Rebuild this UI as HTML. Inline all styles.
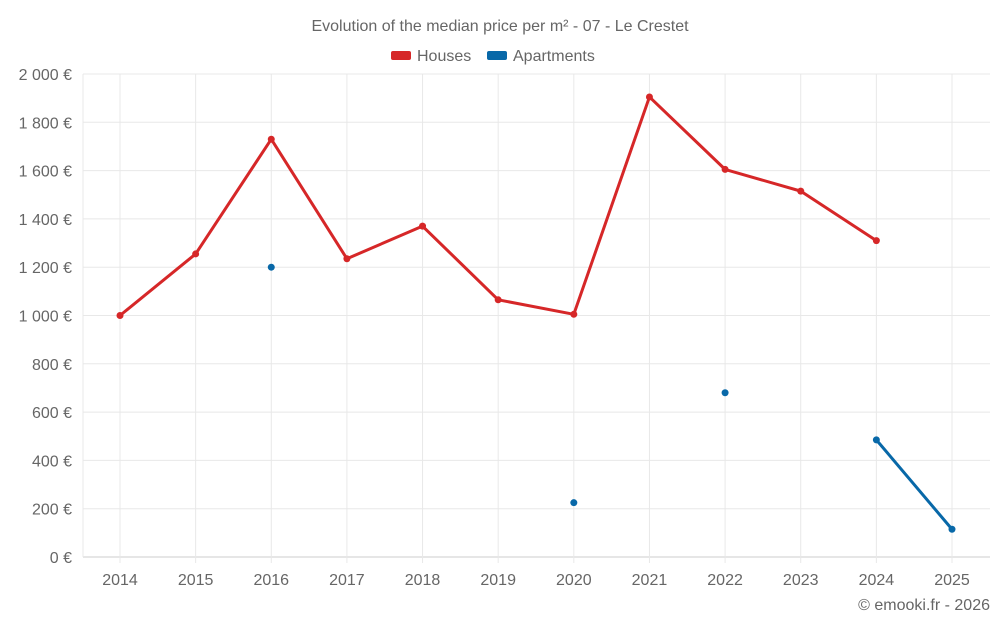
<!DOCTYPE html>
<html><head><meta charset="utf-8"><style>
body{margin:0;background:#fff;font-family:"Liberation Sans",sans-serif}
svg text{font-family:"Liberation Sans",sans-serif;fill:#666}
</style></head><body>
<svg id="c" width="1000" height="625"></svg>
<script>
const years=[2014,2015,2016,2017,2018,2019,2020,2021,2022,2023,2024,2025];
const houses=[1000,1255,1730,1235,1370,1065,1005,1905,1605,1515,1310,null];
const apartments=[null,null,1200,null,null,null,225,null,680,null,485,115];
const yTicks=[0,200,400,600,800,1000,1200,1400,1600,1800,2000];
const yTickLabels=["0 €","200 €","400 €","600 €","800 €","1 000 €","1 200 €","1 400 €","1 600 €","1 800 €","2 000 €"];
const L=83,R=990,T=74,B=557;
const x=i=>120+i*(952-120)/(years.length-1);
const y=v=>B-(v/2000)*(B-T);
const s=document.getElementById('c');const NS='http://www.w3.org/2000/svg';
function mk(t,a,p){const e=document.createElementNS(NS,t);for(const k in a)e.setAttribute(k,a[k]);(p||s).appendChild(e);return e;}
yTicks.forEach((v,i)=>{
const g=mk('line',{x1:L,x2:R,y1:y(v),y2:y(v),stroke:i==0?'#ccc':'#e8e8e8'});


const t=mk('text',{x:72,y:y(v)+6,'text-anchor':'end','font-size':16});t.textContent=yTickLabels[i];


});
const lb=mk('line',{x1:L,x2:L,y1:T,y2:B,stroke:'#e8e8e8'});
years.forEach((yr,i)=>{
const g=mk('line',{x1:x(i),x2:x(i),y1:T,y2:B+6,stroke:'#e8e8e8'});


const t=mk('text',{x:x(i),y:585,'text-anchor':'middle','font-size':16});t.textContent=yr;


});
function series(vals,color,name){
for(let i=0;i<vals.length-1;i++){if(vals[i]!=null&&vals[i+1]!=null){
const l=mk('line',{x1:x(i),y1:y(vals[i]),x2:x(i+1),y2:y(vals[i+1]),stroke:color,'stroke-width':3,'stroke-linecap':'round'});

}}
vals.forEach((v,i)=>{if(v==null)return;
const c=mk('circle',{cx:x(i),cy:y(v),r:3.5,fill:color});

});
}
series(houses,'#d62728','houses');
series(apartments,'#0868a8','apartments');
const ti=mk('text',{x:500,y:31,'text-anchor':'middle','font-size':16});ti.textContent='Evolution of the median price per m² - 07 - Le Crestet';


const r1=mk('rect',{x:391,y:51,width:20,height:9,rx:2,fill:'#d62728'});
const t1=mk('text',{x:417,y:61,'font-size':16});t1.textContent='Houses';


const r2=mk('rect',{x:487,y:51,width:20,height:9,rx:2,fill:'#0868a8'});
const t2=mk('text',{x:513,y:61,'font-size':16});t2.textContent='Apartments';


const cr=mk('text',{x:990,y:610,'text-anchor':'end','font-size':16});cr.textContent='© emooki.fr - 2026';


</script>
</body></html>
